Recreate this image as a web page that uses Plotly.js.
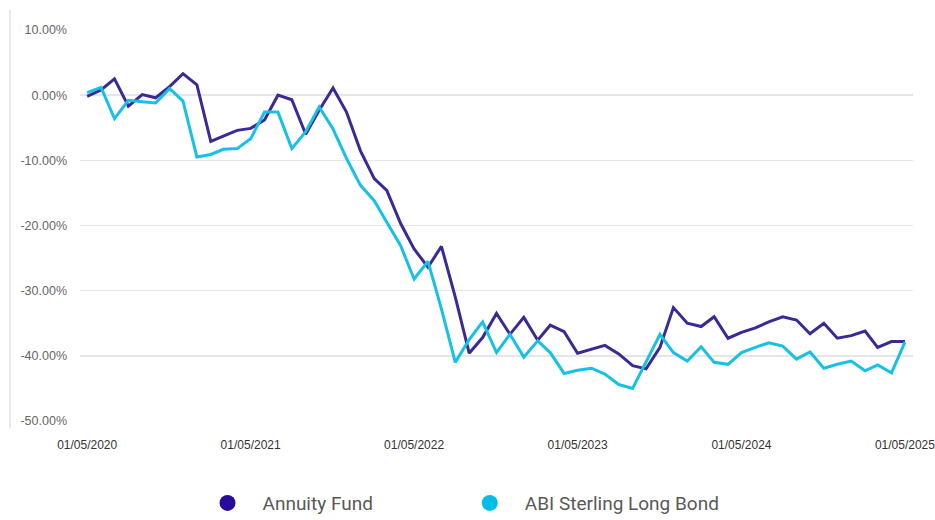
<!DOCTYPE html>
<html>
<head>
<meta charset="utf-8">
<script src="https://cdn.plot.ly/plotly-3.0.1.min.js"></script>
<style>html,body{margin:0;padding:0;background:#fff;}#chart{width:935px;height:520px;}</style>
</head>
<body>
<div id="chart"></div>
<script>
// Monthly observation dates: 01/05/2020 .. 01/05/2025
var startYear = 2020, startMonth = 5, nMonths = 61;
var dates = [];
for (var i = 0; i < nMonths; i++) {
  var m = startMonth - 1 + i;
  var y = startYear + Math.floor(m / 12);
  var mm = (m % 12) + 1;
  dates.push(y + '-' + (mm < 10 ? '0' : '') + mm + '-01');
}

var annuityFund = [
  -0.2, 0.8, 2.5, -1.7, 0.1, -0.4, 1.3, 3.3, 1.6, -7.1,
  -6.3, -5.4, -5.1, -3.8, 0.0, -0.7, -6.0, -2.3, 1.1, -2.6,
  -8.5, -12.8, -14.6, -19.7, -23.6, -26.4, -23.2, -31.0, -39.6, -37.2,
  -33.5, -36.7, -34.1, -37.6, -35.3, -36.3, -39.6, -39.0, -38.4, -39.7,
  -41.5, -42.0, -38.7, -32.6, -35.0, -35.5, -34.0, -37.3, -36.4, -35.7,
  -34.8, -34.0, -34.5, -36.6, -35.0, -37.3, -36.9, -36.2, -38.7, -37.8,
  -37.8
];

var abiSterlingLongBond = [
  0.4, 1.2, -3.6, -0.8, -1.0, -1.2, 1.0, -0.9, -9.5, -9.1,
  -8.3, -8.2, -6.7, -2.6, -2.6, -8.2, -5.6, -1.8, -5.2, -9.7,
  -13.8, -16.2, -19.5, -23.1, -28.2, -25.5, -32.8, -41.0, -37.5, -34.8,
  -39.5, -36.7, -40.2, -37.7, -39.5, -42.7, -42.2, -41.9, -42.8, -44.4,
  -45.0, -40.8, -36.7, -39.5, -40.8, -38.6, -41.0, -41.3, -39.5, -38.7,
  -38.0, -38.5, -40.5, -39.4, -41.9, -41.3, -40.8, -42.3, -41.4, -42.6,
  -37.9
];

var seriesNames = ['Annuity Fund', 'ABI Sterling Long Bond'];
var tickDates = ['2020-05-01', '2021-05-01', '2022-05-01', '2023-05-01', '2024-05-01', '2025-05-01'];
var tickLabels = ['01/05/2020', '01/05/2021', '01/05/2022', '01/05/2023', '01/05/2024', '01/05/2025'];
var yTicks = [10, 0, -10, -20, -30, -40, -50];
var yTickLabels = ['10.00%', '0.00%', '-10.00%', '-20.00%', '-30.00%', '-40.00%', '-50.00%'];

var lineColors = ['#3b2a96', '#16c1e6'];
var markerColors = ['#2a0a9a', '#00bde6'];

var traces = [
  {x: dates, y: annuityFund, type: 'scatter', mode: 'lines', name: seriesNames[0],
   line: {color: lineColors[0], width: 3}, showlegend: false, hoverinfo: 'skip'},
  {x: dates, y: abiSterlingLongBond, type: 'scatter', mode: 'lines', name: seriesNames[1],
   line: {color: lineColors[1], width: 3}, showlegend: false, hoverinfo: 'skip'},
  {x: [null], y: [null], type: 'scatter', mode: 'markers', name: seriesNames[0], legend: 'legend',
   marker: {color: markerColors[0], size: 17, symbol: 'circle'}},
  {x: [null], y: [null], type: 'scatter', mode: 'markers', name: seriesNames[1], legend: 'legend2',
   marker: {color: markerColors[1], size: 17, symbol: 'circle'}}
];

var legendFont = {family: 'Roboto, sans-serif', size: 19, color: '#595959'};

var layout = {
  width: 935, height: 520,
  margin: {l: 80, r: 22, t: 30, b: 99},
  paper_bgcolor: '#ffffff', plot_bgcolor: '#ffffff',
  showlegend: true,
  legend: {
    orientation: 'h', xref: 'container', x: 0.2059, xanchor: 'left',
    yref: 'container', y: 0.0326, yanchor: 'middle',
    font: legendFont, itemwidth: 60
  },
  legend2: {
    orientation: 'h', xref: 'container', x: 0.4864, xanchor: 'left',
    yref: 'container', y: 0.0326, yanchor: 'middle',
    font: legendFont, itemwidth: 60
  },
  xaxis: {
    type: 'date', range: ['2020-04-15', '2025-05-19'],
    tickvals: tickDates, ticktext: tickLabels,
    showgrid: false, zeroline: false, showline: false, ticks: '',
    ticklabelstandoff: 15, ticklabeloverflow: 'allow',
    tickfont: {family: 'Liberation Sans, Arial, sans-serif', size: 12, color: '#333333'}
  },
  yaxis: {
    range: [-50, 10], tickvals: yTicks, ticktext: yTickLabels,
    showgrid: true, gridcolor: '#e6e6e6', gridwidth: 1.5,
    zeroline: false, showline: false, ticks: '',
    ticklabelstandoff: 12,
    tickfont: {family: 'Liberation Sans, Arial, sans-serif', size: 12.5, color: '#666666'}
  },
  shapes: [
    {type: 'line', xref: 'paper', yref: 'paper', x0: -0.084, x1: -0.084, y0: -0.018, y1: 1.051,
     line: {color: '#e3e3e3', width: 1.5}}
  ]
};

Plotly.newPlot('chart', traces, layout, {displayModeBar: false, staticPlot: true});
</script>
</body>
</html>
